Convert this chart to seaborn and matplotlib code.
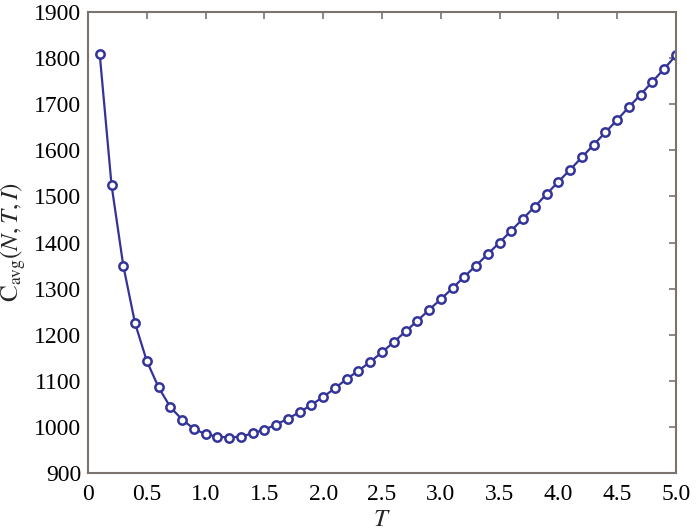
import matplotlib
matplotlib.use("Agg")
import matplotlib.pyplot as plt
import seaborn as sns
import pandas as pd

T = [0.1, 0.2, 0.3, 0.4, 0.5, 0.6, 0.7, 0.8, 0.9, 1.0,
     1.1, 1.2, 1.3, 1.4, 1.5, 1.6, 1.7, 1.8, 1.9, 2.0,
     2.1, 2.2, 2.3, 2.4, 2.5, 2.6, 2.7, 2.8, 2.9, 3.0,
     3.1, 3.2, 3.3, 3.4, 3.5, 3.6, 3.7, 3.8, 3.9, 4.0,
     4.1, 4.2, 4.3, 4.4, 4.5, 4.6, 4.7, 4.8, 4.9, 5.0]
C_avg = [1808, 1525, 1350, 1225, 1143, 1086, 1043, 1016, 996, 984,
         979, 977, 979, 986, 994, 1005, 1018, 1032, 1048, 1065,
         1084, 1104, 1122, 1141, 1162, 1184, 1207, 1230, 1254, 1277,
         1301, 1326, 1350, 1375, 1400, 1426, 1452, 1478, 1505, 1532,
         1558, 1585, 1612, 1639, 1666, 1694, 1721, 1749, 1777, 1806]
x_ticks = [0, 0.5, 1.0, 1.5, 2.0, 2.5, 3.0, 3.5, 4.0, 4.5, 5.0]
x_tick_labels = ["0", "0.5", "1.0", "1.5", "2.0", "2.5", "3.0", "3.5", "4.0", "4.5", "5.0"]
y_ticks = [900, 1000, 1100, 1200, 1300, 1400, 1500, 1600, 1700, 1800, 1900]

sns.set_theme(style="white")
plt.rcParams["font.family"] = ["Liberation Serif", "DejaVu Serif"]
plt.rcParams["mathtext.fontset"] = "stix"

df = pd.DataFrame({"T": T, "C": C_avg})

fig = plt.figure(figsize=(7.0, 5.31), dpi=100)
ax = fig.add_axes([0.1257, 0.1092, 0.8400, 0.8682])

line_color = "#33339a"
sns.lineplot(data=df, x="T", y="C", ax=ax, color=line_color, linewidth=1.6,
             marker="o", markersize=6, markerfacecolor="white",
             markeredgecolor=line_color, markeredgewidth=1.8)

ax.set_xlim(0, 5)
ax.set_ylim(900, 1900)
ax.set_xticks(x_ticks)
ax.set_xticklabels(x_tick_labels)
ax.set_yticks(y_ticks)
ax.set_yticklabels([str(v) for v in y_ticks])

for s in ax.spines.values():
    s.set_visible(True)
    s.set_color("#7a736e")
    s.set_linewidth(1.5)

ax.tick_params(axis="both", which="both", direction="in", length=5, width=1.2,
               color="#7a736e", top=True, right=True, labelsize=17,
               labelcolor="black")
ax.tick_params(axis="x", pad=8)
ax.tick_params(axis="y", pad=5)

ax.set_xlabel("$T$", fontsize=18, labelpad=3)
ax.set_ylabel(r"$\mathrm{C}_{\mathrm{avg}}(N,T,I)$", fontsize=18, labelpad=4)

fig.savefig("out.png", dpi=100)
